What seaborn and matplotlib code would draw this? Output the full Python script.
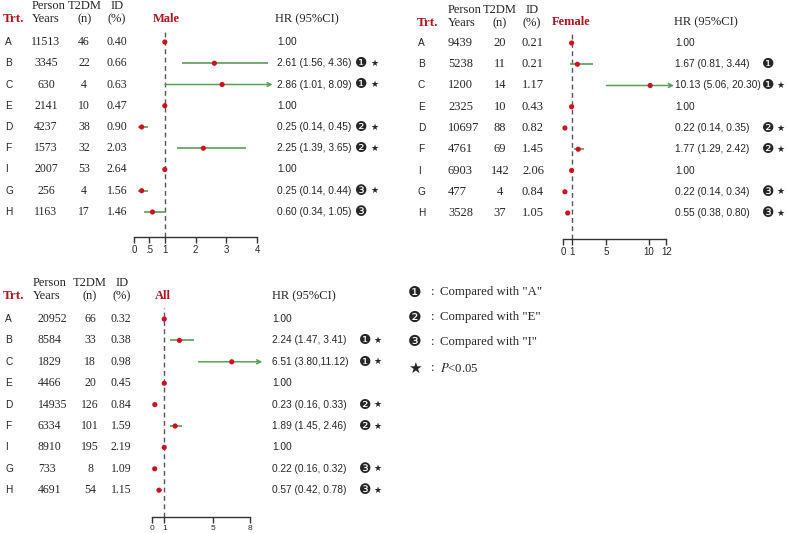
"""Forest plots of T2DM hazard ratios by treatment group (male / female / all)."""
import matplotlib.pyplot as plt
import matplotlib.transforms as mtransforms
import numpy as np
import pandas as pd
import seaborn as sns

W, H = 787, 533
nan = np.nan

trt = ["A", "B", "C", "E", "D", "F", "I", "G", "H"]
ref_group = [0, 1, 1, 0, 2, 2, 0, 3, 3]

male_py = [11513, 3345, 630, 2141, 4237, 1573, 2007, 256, 1163]
male_n = [46, 22, 4, 10, 38, 32, 53, 4, 17]
male_id = [0.40, 0.66, 0.63, 0.47, 0.90, 2.03, 2.64, 1.56, 1.46]
male_hr = [1.00, 2.61, 2.86, 1.00, 0.25, 2.25, 1.00, 0.25, 0.60]
male_lo = [nan, 1.56, 1.01, nan, 0.14, 1.39, nan, 0.14, 0.34]
male_hi = [nan, 4.36, 8.09, nan, 0.45, 3.65, nan, 0.44, 1.05]
male_sig = [False, True, True, False, True, True, False, True, False]

female_py = [9439, 5238, 1200, 2325, 10697, 4761, 6903, 477, 3528]
female_n = [20, 11, 14, 10, 88, 69, 142, 4, 37]
female_id = [0.21, 0.21, 1.17, 0.43, 0.82, 1.45, 2.06, 0.84, 1.05]
female_hr = [1.00, 1.67, 10.13, 1.00, 0.22, 1.77, 1.00, 0.22, 0.55]
female_lo = [nan, 0.81, 5.06, nan, 0.14, 1.29, nan, 0.14, 0.38]
female_hi = [nan, 3.44, 20.30, nan, 0.35, 2.42, nan, 0.34, 0.80]
female_sig = [False, False, True, False, True, True, False, True, True]

all_py = [20952, 8584, 1829, 4466, 14935, 6334, 8910, 733, 4691]
all_n = [66, 33, 18, 20, 126, 101, 195, 8, 54]
all_id = [0.32, 0.38, 0.98, 0.45, 0.84, 1.59, 2.19, 1.09, 1.15]
all_hr = [1.00, 2.24, 6.51, 1.00, 0.23, 1.89, 1.00, 0.22, 0.57]
all_lo = [nan, 1.47, 3.80, nan, 0.16, 1.45, nan, 0.16, 0.42]
all_hi = [nan, 3.41, 11.12, nan, 0.33, 2.46, nan, 0.32, 0.78]
all_sig = [False, True, True, False, True, True, False, True, True]

legend_refs = ['Compared with "A"', 'Compared with "E"', 'Compared with "I"']

RED = "#d01020"
GREEN = "#5a9e5a"
TITLE_RED = "#b3121f"
SERIF = "Liberation Serif"
SANS = ["Liberation Sans", "DejaVu Sans"]
CIRCLED = {1: "\u2776", 2: "\u2777", 3: "\u2778"}

sns.set_theme(style="white")


def fx(px):
    return px / W


def fy(py):
    return 1 - py / H


def make_df(py, n, idp, hr, lo, hi, sig):
    df = pd.DataFrame({"trt": trt, "py": py, "n": n, "id": idp, "hr": hr,
                       "lo": lo, "hi": hi, "ref": ref_group, "sig": sig})
    df["row"] = np.arange(len(df))
    return df


def draw_panel(fig, df, title, lay):
    sp = lay["sp"]
    top = lay["a_y"] - 0.5 * sp
    ax = fig.add_axes([fx(lay["left"]), fy(lay["axis_y"]),
                       (lay["right"] - lay["left"]) / W, (lay["axis_y"] - top) / H])
    ax.patch.set_alpha(0)

    # CI lines (arrow when the upper limit runs off the scale)
    for _, r in df.dropna(subset=["lo"]).iterrows():
        if r["hi"] > lay["xmax"]:
            ax.annotate("", xy=(lay["xmax"], r["row"]), xytext=(r["lo"], r["row"]),
                        arrowprops=dict(arrowstyle="->", color=GREEN, lw=1.1,
                                        mutation_scale=7, shrinkA=0, shrinkB=0),
                        annotation_clip=False)
        else:
            ax.hlines(r["row"], r["lo"], r["hi"], color=GREEN, lw=1.2, zorder=2)

    ax.axvline(1, color="#555555", lw=1, ls=(0, (3.5, 2.5)), zorder=1)
    sns.scatterplot(data=df, x="hr", y="row", ax=ax, color=RED, s=14,
                    edgecolor="none", zorder=3, legend=False, clip_on=False)

    ax.set_xlim(0, lay["xmax"])
    ax.set_ylim((lay["axis_y"] - lay["a_y"]) / sp, -0.5)
    ax.set_xlabel("")
    ax.set_ylabel("")
    ax.set_yticks([])
    for s in ["top", "left", "right"]:
        ax.spines[s].set_visible(False)
    ax.spines["bottom"].set_color("#333333")
    ax.spines["bottom"].set_linewidth(1)
    ax.spines["bottom"].set_bounds(lay["ticks"][0], lay["ticks"][-1])
    ax.set_xticks(lay["ticks"])
    ax.set_xticklabels(lay["ticklabels"], fontsize=lay["tick_fs"], family=SANS)
    ax.tick_params(axis="x", direction="out", length=4, width=1, color="#333333",
                   pad=1.5, bottom=True)

    # table columns
    tr = mtransforms.blended_transform_factory(fig.transFigure, ax.transData)
    fs = lay["val_fs"]
    for _, r in df.iterrows():
        y = r["row"]
        ax.text(fx(lay["lab_x"]), y, r["trt"], transform=tr, ha="left", va="center",
                fontsize=7.3, family=SANS)
        ax.text(fx(lay["py_x"]), y, f"{r['py']}", transform=tr, ha=lay["py_ha"],
                va="center", fontsize=fs, family=SERIF)
        ax.text(fx(lay["n_x"]), y, f"{r['n']}", transform=tr, ha="center",
                va="center", fontsize=fs, family=SERIF)
        ax.text(fx(lay["id_x"]), y, f"{r['id']:.2f}", transform=tr, ha=lay["id_ha"],
                va="center", fontsize=fs, family=SERIF)
        if np.isnan(r["lo"]):
            hr_txt = f"{r['hr']:.2f}"
        else:
            sep = lay.get("sep", {}).get(r["trt"], ", ")
            hr_txt = f"{r['hr']:.2f} ({r['lo']:.2f}{sep}{r['hi']:.2f})"
        ax.text(fx(lay["hr_x"]), y, hr_txt, transform=tr, ha="left", va="center",
                fontsize=7.3, family=SANS)
        if r["ref"]:
            ax.text(fx(lay["circ_x"]), y, CIRCLED[r["ref"]], transform=tr, ha="center",
                    va="center", fontsize=10, family=["DejaVu Sans"])
        if r["sig"]:
            ax.text(fx(lay["star_x"]), y, "\u2605", transform=tr, ha="center",
                    va="center", fontsize=6.5, family=["DejaVu Sans"])

    # headers
    h1, h2 = lay["h1"], lay["h2"]
    fig.text(fx(lay["trt_x"]), fy(h2), "Trt.", ha="left", va="center", fontsize=9.5,
             family=SERIF, weight="bold", color=TITLE_RED)
    fig.text(fx(lay["hp_x"]), fy(h1), "Person", ha="left", va="center", fontsize=9, family=SERIF)
    fig.text(fx(lay["hp_x"]), fy(h2), "Years", ha="left", va="center", fontsize=9, family=SERIF)
    fig.text(fx(lay["hn_x"]), fy(h1), "T2DM", ha="center", va="center", fontsize=9, family=SERIF)
    fig.text(fx(lay["hn_x"]), fy(h2), "(n)", ha="center", va="center", fontsize=9, family=SERIF)
    fig.text(fx(lay["hid_x"]), fy(h1), "ID", ha="center", va="center", fontsize=9, family=SERIF)
    fig.text(fx(lay["hid_x"]), fy(h2), "(%)", ha="center", va="center", fontsize=9, family=SERIF)
    fig.text(fx(lay["title_x"]), fy(lay["title_y"]), title, ha="center", va="center",
             fontsize=9, family=SERIF, weight="bold", color=TITLE_RED)
    fig.text(fx(lay["hhr_x"]), fy(lay["title_y"]), "HR (95%CI)", ha="left", va="center",
             fontsize=9, family=SERIF)
    return ax


male_lay = dict(left=134, right=272.6, xmax=4.5, a_y=42, sp=21.25, axis_y=237,
                ticks=[0, 0.5, 1, 2, 3, 4], ticklabels=["0", ".5", "1", "2", "3", "4"],
                tick_fs=7, val_fs=8.5,
                lab_x=5, py_x=46, py_ha="center", n_x=84, id_x=117, id_ha="center",
                hr_x=277, circ_x=361.5, star_x=374.5,
                h1=6, h2=19, trt_x=3, hp_x=32, hn_x=85, hid_x=117,
                title_x=166, title_y=19, hhr_x=275)

female_lay = dict(left=563, right=674, xmax=12.9, a_y=43, sp=21.25, axis_y=239,
                  ticks=[0, 1, 5, 10, 12], ticklabels=["0", "1", "5", "10", "12"],
                  tick_fs=7, val_fs=9,
                  lab_x=418, py_x=448, py_ha="left", n_x=500, id_x=522, id_ha="left",
                  hr_x=675, circ_x=768, star_x=780,
                  h1=10, h2=23, trt_x=417, hp_x=448, hn_x=500, hid_x=532,
                  title_x=571, title_y=22, hhr_x=674)

all_lay = dict(left=152, right=262.25, xmax=9, a_y=319, sp=21.4, axis_y=517,
               ticks=[0, 1, 5, 8], ticklabels=["0", "1", "5", "8"],
               tick_fs=6, val_fs=8.5,
               lab_x=5, py_x=38, py_ha="left", n_x=90, id_x=121, id_ha="center",
               hr_x=272, circ_x=365, star_x=377, sep={"C": ","},
               h1=283, h2=296, trt_x=3, hp_x=33, hn_x=90, hid_x=122,
               title_x=163, title_y=296, hhr_x=272)

fig = plt.figure(figsize=(W / 100, H / 100), dpi=100)
fig.patch.set_facecolor("white")

draw_panel(fig, make_df(male_py, male_n, male_id, male_hr, male_lo, male_hi, male_sig),
           "Male", male_lay)
draw_panel(fig, make_df(female_py, female_n, female_id, female_hr, female_lo, female_hi,
                        female_sig), "Female", female_lay)
draw_panel(fig, make_df(all_py, all_n, all_id, all_hr, all_lo, all_hi, all_sig),
           "All", all_lay)

# key
key_y = [292, 317, 342]
for k, (txt, yy) in enumerate(zip(legend_refs, key_y), start=1):
    fig.text(fx(415), fy(yy), CIRCLED[k], ha="center", va="center", fontsize=11,
             family=["DejaVu Sans"])
    fig.text(fx(433), fy(yy), ":", ha="center", va="center", fontsize=9.2, family=SERIF)
    fig.text(fx(440), fy(yy), txt, ha="left", va="center", fontsize=9.2, family=SERIF)
fig.text(fx(415), fy(368), "\u2605", ha="center", va="center", fontsize=11,
         family=["DejaVu Sans"])
fig.text(fx(433), fy(368), ":", ha="center", va="center", fontsize=9.2, family=SERIF)
fig.text(fx(440), fy(368), r"$\it{P}$<0.05", ha="left", va="center", fontsize=9.2,
         family=SERIF, math_fontfamily="stix")

fig.savefig("out.png", dpi=100)
